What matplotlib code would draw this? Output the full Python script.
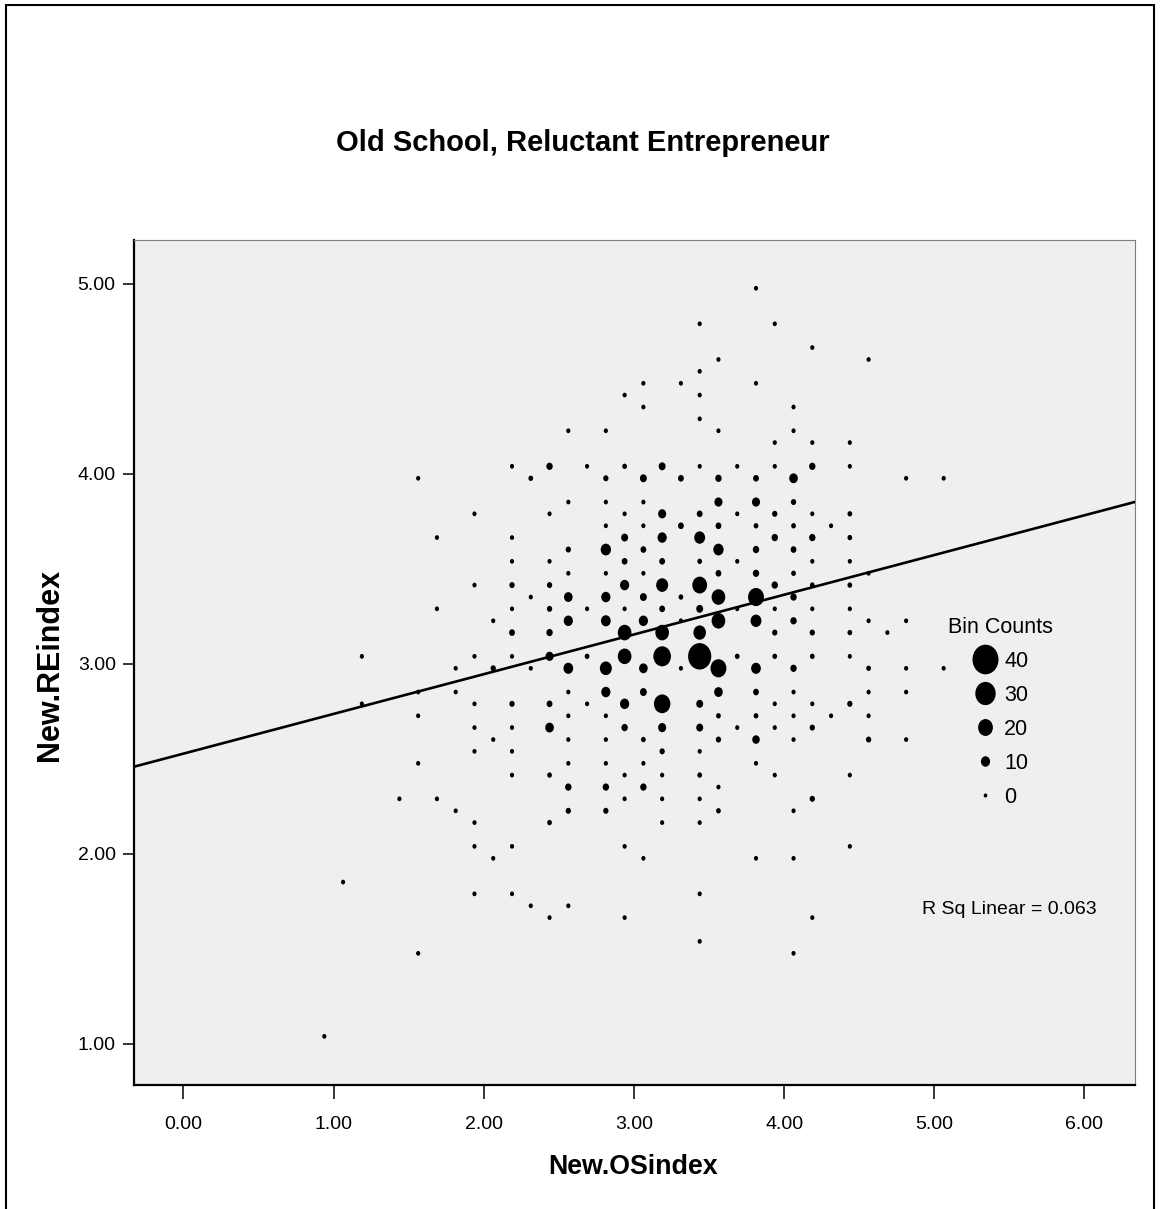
import numpy as np
import matplotlib
matplotlib.use('Agg')
import matplotlib.pyplot as plt
from matplotlib.path import Path
from matplotlib.transforms import Affine2D
from matplotlib.lines import Line2D
from matplotlib.patches import Rectangle
from matplotlib.ticker import FormatStrFormatter

plt.rcParams['font.family'] = ['Liberation Sans', 'DejaVu Sans']

# binned scatter, one entry per New.REindex row: OS index bin centres and bin counts
re_rows = [4.975, 4.788, 4.663, 4.6, 4.538, 4.475, 4.413, 4.35, 4.288, 4.225, 4.163,
           4.038, 3.975, 3.85, 3.788, 3.725, 3.663, 3.6, 3.538, 3.475, 3.413, 3.35,
           3.288, 3.225, 3.163, 3.038, 2.975, 2.85, 2.788, 2.725, 2.663, 2.6, 2.538,
           2.475, 2.413, 2.35, 2.288, 2.225, 2.163, 2.038, 1.975, 1.85, 1.788, 1.725,
           1.663, 1.538, 1.475, 1.038]

os_by_row = [
    [3.813],
    [3.438, 3.938],
    [4.188],
    [3.563, 4.563],
    [3.438],
    [3.063, 3.313, 3.813],
    [2.938, 3.438],
    [3.063, 4.063],
    [3.438],
    [2.563, 2.813, 3.563, 4.063],
    [3.938, 4.188, 4.438],
    [2.188, 2.438, 2.688, 2.938, 3.188, 3.438, 3.688, 3.938, 4.188, 4.438],
    [1.563, 2.313, 2.813, 3.063, 3.313, 3.563, 3.813, 4.063, 4.813, 5.063],
    [2.563, 2.813, 3.063, 3.563, 3.813, 4.063],
    [1.938, 2.438, 2.938, 3.188, 3.438, 3.688, 3.938, 4.188, 4.438],
    [2.813, 3.063, 3.313, 3.563, 3.813, 4.063, 4.313],
    [1.688, 2.188, 2.938, 3.188, 3.438, 3.938, 4.188, 4.438],
    [2.563, 2.813, 3.063, 3.563, 3.813, 4.063],
    [2.188, 2.438, 2.938, 3.188, 3.438, 3.688, 4.188, 4.438],
    [2.563, 2.813, 3.063, 3.563, 3.813, 4.063, 4.563],
    [1.938, 2.188, 2.438, 2.938, 3.188, 3.438, 3.938, 4.188, 4.438],
    [2.313, 2.563, 2.813, 3.063, 3.313, 3.563, 3.813, 4.063],
    [1.688, 2.188, 2.438, 2.688, 2.938, 3.188, 3.438, 3.688, 3.938, 4.188, 4.438],
    [2.063, 2.563, 2.813, 3.063, 3.313, 3.563, 3.813, 4.063, 4.563, 4.813],
    [2.188, 2.438, 2.938, 3.188, 3.438, 3.938, 4.188, 4.438, 4.688],
    [1.188, 1.938, 2.188, 2.438, 2.688, 2.938, 3.188, 3.438, 3.688, 3.938, 4.188, 4.438],
    [1.813, 2.063, 2.313, 2.563, 2.813, 3.063, 3.313, 3.563, 3.813, 4.063, 4.563, 4.813, 5.063],
    [1.563, 1.813, 2.563, 2.813, 3.063, 3.563, 3.813, 4.063, 4.563, 4.813],
    [1.188, 1.938, 2.188, 2.438, 2.688, 2.938, 3.188, 3.438, 3.938, 4.188, 4.438],
    [1.563, 2.563, 2.813, 3.563, 3.813, 4.063, 4.313, 4.563],
    [1.938, 2.188, 2.438, 2.938, 3.188, 3.438, 3.688, 3.938, 4.188],
    [2.063, 2.563, 2.813, 3.063, 3.563, 3.813, 4.063, 4.563, 4.813],
    [1.938, 2.188, 3.188, 3.438],
    [1.563, 2.563, 2.813, 3.063, 3.813],
    [2.188, 2.438, 2.938, 3.188, 3.438, 3.938, 4.438],
    [2.563, 2.813, 3.063, 3.563],
    [1.438, 1.688, 2.938, 3.188, 3.438, 4.188],
    [1.813, 2.563, 2.813, 3.563, 4.063],
    [1.938, 2.438, 3.188, 3.438],
    [1.938, 2.188, 2.938, 4.438],
    [2.063, 3.063, 3.813, 4.063],
    [1.063],
    [1.938, 2.188, 3.438],
    [2.313, 2.563],
    [2.438, 2.938, 4.188],
    [3.438],
    [1.563, 4.063],
    [0.938],
]

n_by_row = [
    [1],
    [1, 1],
    [1],
    [1, 1],
    [1],
    [1, 1, 1],
    [1, 1],
    [1, 1],
    [1],
    [1, 1, 1, 1],
    [1, 1, 1],
    [1, 5, 1, 2, 6, 1, 1, 1, 5, 1],
    [1, 2, 3, 6, 4, 5, 4, 9, 1, 1],
    [1, 1, 1, 8, 8, 3],
    [1, 1, 1, 8, 4, 1, 3, 1, 2],
    [1, 1, 4, 4, 2, 2, 1],
    [1, 1, 6, 10, 13, 5, 5, 2],
    [3, 12, 4, 12, 5, 4],
    [1, 1, 4, 4, 2, 1, 1, 1],
    [1, 1, 1, 4, 5, 2, 1],
    [1, 3, 3, 10, 15, 20, 5, 2, 2],
    [1, 9, 10, 6, 2, 18, 22, 5],
    [1, 1, 3, 1, 1, 4, 6, 1, 1, 1, 1],
    [1, 10, 11, 10, 1, 18, 13, 5, 1, 1],
    [4, 5, 18, 18, 16, 3, 3, 2, 1],
    [1, 1, 1, 8, 2, 18, 25, 35, 2, 2, 2, 1],
    [1, 3, 1, 11, 15, 9, 1, 22, 11, 5, 2, 1, 1],
    [1, 1, 1, 10, 6, 9, 4, 1, 1, 1],
    [1, 1, 3, 4, 1, 10, 23, 6, 1, 1, 3],
    [1, 1, 1, 2, 2, 1, 1, 1],
    [1, 1, 9, 5, 8, 6, 1, 1, 3],
    [1, 1, 1, 2, 3, 7, 1, 3, 1],
    [1, 1, 3, 1],
    [1, 1, 1, 1, 1],
    [1, 2, 1, 1, 2, 1, 1],
    [5, 5, 5, 1],
    [1, 1, 1, 1, 1, 3],
    [1, 3, 3, 2, 1],
    [1, 2, 1, 1],
    [1, 1, 1, 1],
    [1, 1, 1, 1],
    [1],
    [1, 1, 1],
    [1, 1],
    [1, 1, 1],
    [1],
    [1, 1],
    [1],
]

legend_counts = [40, 30, 20, 10, 0]

# linear fit shown on the chart
fit_intercept = 2.526
fit_slope = 0.209
r_sq = 0.063

os_vals = np.array([x for row in os_by_row for x in row])
re_vals = np.array([y for y, row in zip(re_rows, os_by_row) for _ in row])
counts = np.array([n for row in n_by_row for n in row])

W, H = 1163, 1209
fig = plt.figure(figsize=(W / 100, H / 100), dpi=100)

# slightly tall ellipse marker, like the original
ellipse = Path.unit_circle().transformed(Affine2D().scale(1 / 1.14, 1))


def marker_pt(n):
    # marker height in points, diameter grows linearly with bin count
    return 1.14 * (3.6 + 0.56 * np.asarray(n)) * 0.72


ax = fig.add_axes([133.5 / W, 1 - 1085 / H, 1001 / W, 845 / H])
ax.set_facecolor('#efefef')

ax.scatter(os_vals, re_vals, s=marker_pt(counts) ** 2, marker=ellipse,
           c='black', linewidths=0, zorder=3)

ax.set_xlim(-0.333, 6.334)
ax.set_ylim(0.782, 5.229)

xs = np.array(ax.get_xlim())
ax.plot(xs, fit_intercept + fit_slope * xs, color='black', lw=1.9, zorder=4)

ax.set_xticks(np.arange(0, 7, 1.0))
ax.set_yticks(np.arange(1, 6, 1.0))
ax.xaxis.set_major_formatter(FormatStrFormatter('%.2f'))
ax.yaxis.set_major_formatter(FormatStrFormatter('%.2f'))
ax.tick_params(axis='x', direction='out', length=10, width=1.1, pad=12, labelsize=14)
ax.tick_params(axis='y', direction='out', length=8, width=1.1, pad=4.8, labelsize=14)

for side in ['left', 'bottom']:
    ax.spines[side].set_color('black')
    ax.spines[side].set_linewidth(1.6)
for side in ['top', 'right']:
    ax.spines[side].set_color('#808080')
    ax.spines[side].set_linewidth(0.8)

ax.text(921.7 / W, 1 - 909 / H, 'R Sq Linear = %.3f' % r_sq, transform=fig.transFigure,
        fontsize=14, ha='left', va='center')

handles = [Line2D([], [], linestyle='none', marker=ellipse, markersize=marker_pt(n),
                  markerfacecolor='black', markeredgewidth=0) for n in legend_counts]
ax.legend(handles, [str(n) for n in legend_counts], title='Bin Counts', frameon=False,
          loc='upper center', bbox_to_anchor=(1000 / W, 1 - 617 / H),
          bbox_transform=fig.transFigure, fontsize=15.5, title_fontsize=15.5,
          handlelength=1.2, handletextpad=0.3, labelspacing=0.6,
          borderpad=0, borderaxespad=0)

fig.text(583 / W, 1 - 143 / H, 'Old School, Reluctant Entrepreneur',
         fontsize=21, fontweight='bold', ha='center', va='center')
fig.text(632.7 / W, 1 - 1166.7 / H, 'New.OSindex',
         fontsize=19.3, fontweight='bold', ha='center', va='center')
fig.text(50 / W, 1 - 665 / H, 'New.REindex', rotation=90,
         fontsize=22, fontweight='bold', ha='center', va='center')

# outer frame of the exported picture
fig.add_artist(Rectangle((6 / W, -0.01), 1148 / W, 1.01 - 5 / H, transform=fig.transFigure,
                         fill=False, edgecolor='black', linewidth=1.5))

fig.savefig('out.png', dpi=100)
